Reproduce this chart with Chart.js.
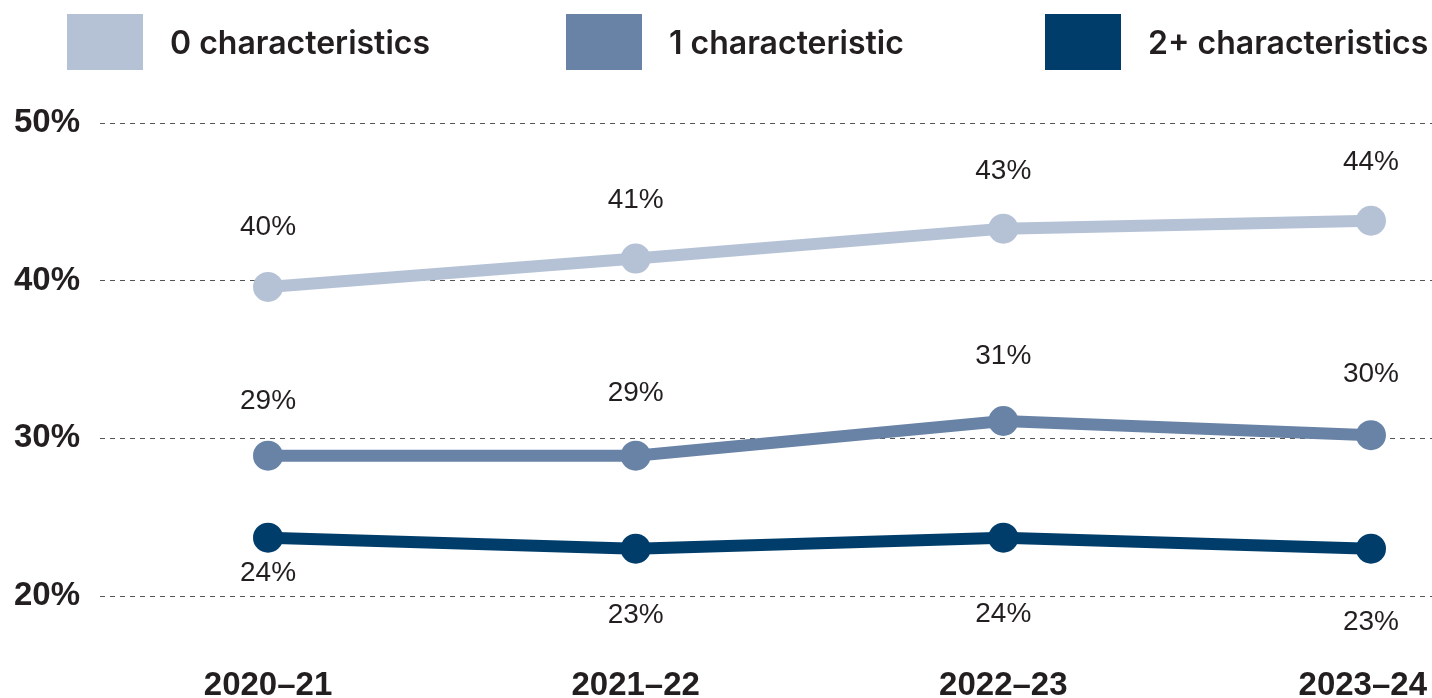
<!DOCTYPE html>
<html lang="en">
<head>
    <meta charset="UTF-8">
    <title>Characteristics by year</title>
    <script src="https://cdn.jsdelivr.net/npm/chart.js"></script>
    <style>
        html, body {
            margin: 0;
            padding: 0;
            background: #fff;
        }
        .wrap {
            position: relative;
            width: 1432px;
            height: 698px;
        }
        .legend {
            position: absolute;
            top: 14px;
            left: 0;
            height: 56px;
            width: 1432px;
        }
        .legend-item {
            position: absolute;
            top: 0;
            display: flex;
            align-items: center;
            height: 56px;
            font-family: Inter, "Open Sans", sans-serif;
            font-weight: 600;
            font-size: 32px;
            color: #231f20;
            white-space: nowrap;
        }
        .legend-item span.box {
            width: 76px;
            height: 56px;
            margin-right: 27px;
        }
        #item0 { left: 67px; }
        #item1 { left: 566px; }
        #item2 { left: 1045px; }
    </style>
</head>
<body>
<div class="wrap">
    <canvas id="lineChart" width="1432" height="698"></canvas>
    <div class="legend" id="legend"></div>
</div>

<script>
    // Data
    const years = ['2020\u201321', '2021\u201322', '2022\u201323', '2023\u201324'];
    const seriesNames = ['0 characteristics', '1 characteristic', '2+ characteristics'];
    const zeroChar = [39.6, 41.4, 43.3, 43.8];
    const oneChar = [28.9, 28.9, 31.1, 30.2];
    const twoPlusChar = [23.7, 23.0, 23.7, 23.0];
    const yTicks = [20, 30, 40, 50];

    const colors = ['#b5c2d6', '#6983a7', '#003d6b'];
    // vertical offset of each value label from its point
    const labelOffsets = [
        [-60, -58, -57, -58],
        [-54, -62, -65, -61],
        [36, 67, 77, 74]
    ];

    const boldFont = 'bold 33px "Liberation Sans", Arial, sans-serif';

    // Legend
    const legendEl = document.getElementById('legend');
    seriesNames.forEach((name, i) => {
        const item = document.createElement('div');
        item.className = 'legend-item';
        item.id = 'item' + i;
        item.innerHTML = '<span class="box" style="background:' + colors[i] + '"></span>' + name;
        legendEl.appendChild(item);
    });

    function toPoints(values) {
        return values.map((v, i) => ({ x: i, y: v }));
    }

    // value labels next to each point + year labels under the x axis
    const labelsPlugin = {
        id: 'valueLabels',
        afterDatasetsDraw(chart) {
            const ctx = chart.ctx;
            ctx.save();
            ctx.font = '28px "Liberation Sans", Arial, sans-serif';
            ctx.fillStyle = '#231f20';
            ctx.textAlign = 'center';
            ctx.textBaseline = 'middle';
            chart.data.datasets.forEach((ds, di) => {
                const meta = chart.getDatasetMeta(di);
                const offs = labelOffsets[ds.order];
                meta.data.forEach((pt, i) => {
                    const txt = Math.round(ds.data[i].y) + '%';
                    ctx.fillText(txt, pt.x, pt.y + offs[i]);
                });
            });

            const xScale = chart.scales.x;
            ctx.font = boldFont;
            years.forEach((y, i) => {
                const w = ctx.measureText(y).width;
                let px = xScale.getPixelForValue(i);
                px = Math.min(px, chart.width - 5 - w / 2);
                ctx.fillText(y, px, 686);
            });
            ctx.restore();
        }
    };

    const datasets = [zeroChar, oneChar, twoPlusChar].map((vals, i) => ({
        label: seriesNames[i],
        data: toPoints(vals),
        order: i,
        borderColor: colors[i],
        backgroundColor: colors[i],
        pointBackgroundColor: colors[i],
        borderWidth: 12,
        pointRadius: 15,
        pointBorderWidth: 0,
        pointHoverRadius: 15,
        tension: 0,
        clip: false
    }));

    const ctx = document.getElementById('lineChart').getContext('2d');
    const chart = new Chart(ctx, {
        type: 'line',
        data: { datasets: datasets },
        options: {
            responsive: false,
            animation: false,
            layout: {
                autoPadding: false,
                padding: { top: 123, left: 0, right: 0, bottom: 0 }
            },
            plugins: {
                legend: { display: false },
                tooltip: { enabled: false }
            },
            scales: {
                x: {
                    type: 'linear',
                    min: -0.457,
                    max: 3.166,
                    grid: { display: false, drawTicks: false },
                    border: { display: false },
                    ticks: { display: false },
                    afterFit(scale) {
                        scale.height = 102;
                    }
                },
                y: {
                    min: 20,
                    max: 50,
                    afterBuildTicks(scale) {
                        scale.ticks = yTicks.map(v => ({ value: v }));
                    },
                    afterFit(scale) {
                        scale.width = 100;
                    },
                    grid: {
                        color: '#555',
                        lineWidth: 1,
                        drawTicks: false
                    },
                    border: { display: false, dash: [5, 5] },
                    ticks: {
                        padding: 20,
                        color: '#231f20',
                        font: { family: '"Liberation Sans", Arial, sans-serif', size: 33, weight: 'bold' },
                        callback: (v) => v + '%'
                    }
                }
            }
        },
        plugins: [labelsPlugin]
    });
</script>
</body>
</html>
